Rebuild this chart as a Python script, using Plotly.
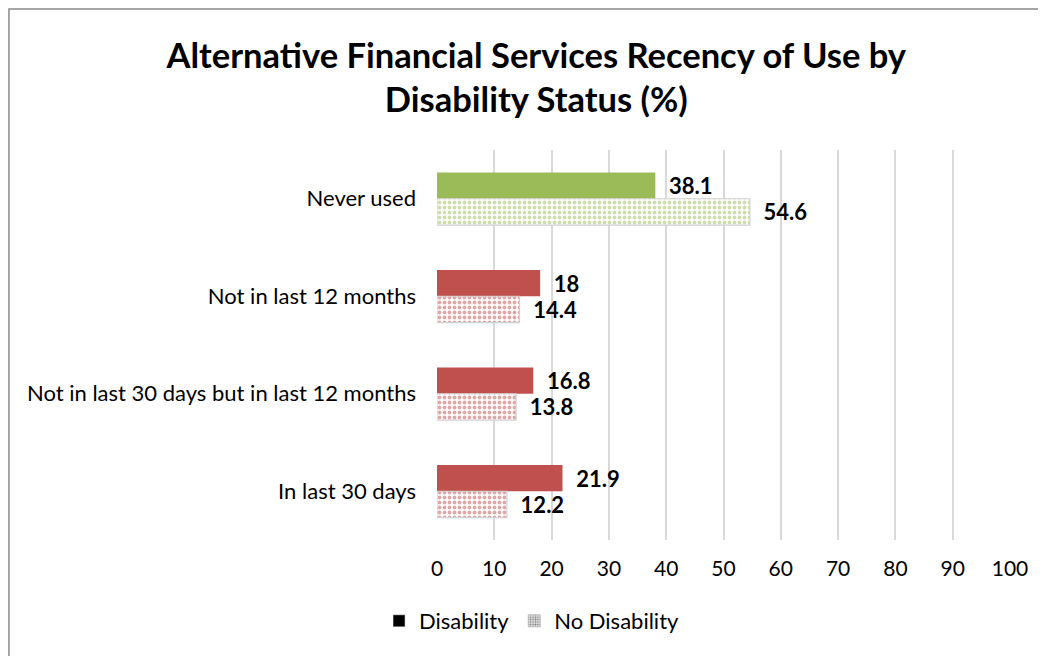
import plotly.graph_objects as go

categories = ["Never used", "Not in last 12 months",
              "Not in last 30 days but in last 12 months", "In last 30 days"]
disability = [38.1, 18, 16.8, 21.9]
no_disability = [54.6, 14.4, 13.8, 12.2]
bar_colors = ["#9BBB59", "#C0504D", "#C0504D", "#C0504D"]
x_ticks = [0, 10, 20, 30, 40, 50, 60, 70, 80, 90, 100]

FONT = "Lato"
NB = "\u00a0"

fig = go.Figure()
fig.add_trace(go.Bar(
    y=categories, x=disability, orientation="h", name="Disability",
    marker=dict(color=bar_colors, line=dict(width=0)),
    text=[f"{NB*2}{v:g}" for v in disability], textposition="outside",
    constraintext="none",
    textfont=dict(family=FONT, size=22, color="black", weight="bold"),
    cliponaxis=False, showlegend=False,
))
fig.add_trace(go.Bar(
    y=categories, x=no_disability, orientation="h", name="No Disability",
    marker=dict(color="white", line=dict(width=1.2, color="#D0D0D0"),
                pattern=dict(shape=".", fgcolor=bar_colors, bgcolor="white",
                             size=5, solidity=0.45, fillmode="overlay")),
    text=[f"{NB*2}{v:g}" for v in no_disability], textposition="outside",
    constraintext="none",
    textfont=dict(family=FONT, size=22, color="black", weight="bold"),
    cliponaxis=False, showlegend=False,
))
# legend-only entries (on a hidden overlay axis so they don't take group slots)
fig.add_trace(go.Bar(x=[None], y=[None], orientation="h", name="Disability", yaxis="y2",
                     marker=dict(color="black"), showlegend=True))
fig.add_trace(go.Bar(x=[None], y=[None], orientation="h", name="No Disability", yaxis="y2",
                     marker=dict(color="#E0E0E0", line=dict(width=1, color="#BFBFBF"),
                                 pattern=dict(shape=".", fgcolor="black", bgcolor="#E8E8E8",
                                              size=3, solidity=0.4)),
                     showlegend=True))

fig.update_layout(
    width=1038, height=648,
    margin=dict(l=429, r=36, t=142, b=116),
    paper_bgcolor="white", plot_bgcolor="white",
    font=dict(family=FONT, color="black"),
    barmode="group", bargap=0.46, bargroupgap=0,
    title=dict(text="<b>Alternative Financial Services Recency of Use by<br>Disability Status (%)</b>",
               x=0.509, xanchor="center", y=0.908, yanchor="top",
               font=dict(family=FONT, size=34.5, color="black")),
    xaxis=dict(range=[0, 100], tickvals=x_ticks, showgrid=True, gridcolor="#D9D9D9",
               gridwidth=1.5, zeroline=False, showline=False,
               tickfont=dict(family=FONT, size=21, color="black"), ticklabelstandoff=14),
    yaxis=dict(categoryorder="array", categoryarray=categories, autorange="reversed",
               showgrid=False, showline=False, zeroline=False,
               tickfont=dict(family=FONT, size=22, color="black"), ticklabelstandoff=20),
    yaxis2=dict(overlaying="y", visible=False),
    legend=dict(orientation="h", x=0.165, xanchor="center", y=-0.2077, yanchor="middle",
                font=dict(family=FONT, size=22, color="black"), traceorder="normal",
                itemwidth=30),
    shapes=[dict(type="rect", xref="paper", yref="paper",
                 x0=-0.7470, x1=1.3, y0=-0.5, y1=1.3615,
                 line=dict(color="#898989", width=1.5), layer="below")],
)

fig.write_html("out.html")
